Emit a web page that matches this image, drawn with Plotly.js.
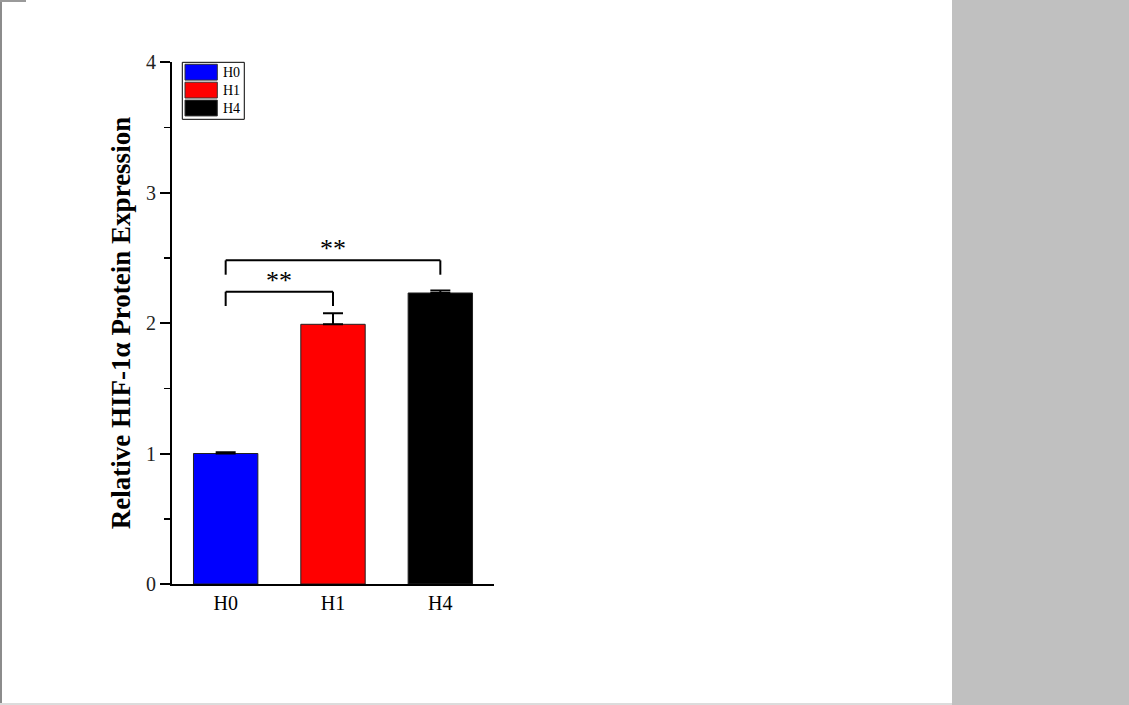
<!DOCTYPE html>
<html><head><meta charset="utf-8">
<script src="https://cdn.plot.ly/plotly-3.0.1.min.js"></script>
<style>
body{margin:0;width:1129px;height:705px;overflow:hidden;position:relative;background:#fff}
#plot{position:absolute;left:0;top:0;width:1129px;height:705px}
#panel{position:absolute;left:952px;top:0;width:177px;height:705px;background:#c0c0c0}
#lb{position:absolute;left:0;top:0;width:2px;height:705px;background:#8c8c8c}
#tb{position:absolute;left:0;top:0;width:26px;height:2px;background:#9a9a9a}
#bb{position:absolute;left:0;top:703px;width:952px;height:2px;background:#dcdcdc}
</style></head>
<body>
<div id="plot"></div><div id="panel"></div><div id="lb"></div><div id="tb"></div><div id="bb"></div>
<script>
// ---- data ----
const categories = ["H0", "H1", "H4"];
const values = [1.00, 1.99, 2.23];
const errors = [0.01, 0.085, 0.02];
const colors = ["#0000ff", "#ff0000", "#000000"];
const comparisons = [[0, 1], [0, 2]];
const bracketHeights = [2.24, 2.48];
const bracketLabels = ["**", "**"];
const legendLabels = ["H0", "H1", "H4"];

const serif = "Liberation Serif, Times New Roman, serif";

const trace = {
  type: "bar",
  x: categories,
  y: values,
  width: 0.6,
  marker: {color: colors, line: {color: "#222", width: 1}},
  error_y: {type: "data", symmetric: false, array: errors, arrayminus: errors.map(() => 0),
            color: "#000", thickness: 2, width: 10},
  showlegend: false,
  hoverinfo: "x+y"
};

const shapes = [];
const annotations = [];
const drop = 0.11;
comparisons.forEach((pair, i) => {
  const [a, b] = pair;
  const h = bracketHeights[i];
  const line = {color: "#000", width: 2};
  shapes.push({type: "line", xref: "x", yref: "y", x0: a, x1: b, y0: h, y1: h, line});
  shapes.push({type: "line", xref: "x", yref: "y", x0: a, x1: a, y0: h - drop, y1: h, line});
  shapes.push({type: "line", xref: "x", yref: "y", x0: b, x1: b, y0: h - drop, y1: h, line});
  annotations.push({xref: "x", yref: "y", x: (a + b) / 2, y: h, yanchor: "bottom", xanchor: "center",
    text: bracketLabels[i], showarrow: false, yshift: -5, font: {family: serif, size: 26, color: "#000"}});
});

// legend drawn as a boxed key (paper coordinates)
const boxX0 = 0.032, boxX1 = 0.2245, boxY1 = 0.9994, boxY0 = 0.8902;
shapes.push({type: "rect", xref: "paper", yref: "paper", x0: boxX0, x1: boxX1, y0: boxY0, y1: boxY1,
  line: {color: "#000", width: 1}, fillcolor: "rgba(0,0,0,0)"});
const rowH = 0.0343, swX0 = 0.0404, swX1 = 0.1407, topY = 0.9956;
legendLabels.forEach((lab, i) => {
  const yt = topY - i * rowH, yb = yt - rowH + 0.004;
  shapes.push({type: "rect", xref: "paper", yref: "paper", x0: swX0, x1: swX1, y0: yb, y1: yt,
    line: {color: "#333", width: 1}, fillcolor: colors[i]});
  annotations.push({xref: "paper", yref: "paper", x: 0.152, y: (yt + yb) / 2, xanchor: "left", yanchor: "middle",
    text: lab, showarrow: false, font: {family: serif, size: 14, color: "#000"}});
});

const layout = {
  width: 1129, height: 705,
  margin: {l: 172, r: 635, t: 62, b: 121},
  paper_bgcolor: "#fff", plot_bgcolor: "#fff",
  showlegend: false,
  xaxis: {
    type: "category", range: [-0.5, 2.5], showline: true, linewidth: 2, linecolor: "#000",
    ticks: "", showgrid: false, zeroline: false,
    tickfont: {family: serif, size: 20, color: "#000"}
  },
  yaxis: {
    range: [0, 4], dtick: 1, tick0: 0, showline: true, linewidth: 2, linecolor: "#000",
    ticks: "outside", ticklen: 10, tickwidth: 2, tickcolor: "#000",
    minor: {dtick: 0.5, ticks: "outside", ticklen: 6, tickwidth: 1.5, tickcolor: "#000"},
    showgrid: false, zeroline: false,
    tickfont: {family: serif, size: 20, color: "#222"},
    title: {text: "Relative HIF-1α Protein Expression", standoff: 8,
            font: {family: serif, size: 27, color: "#000", weight: "bold"}}
  },
  shapes, annotations
};

Plotly.newPlot("plot", [trace], layout, {displayModeBar: false, staticPlot: true});
</script>
</body></html>
